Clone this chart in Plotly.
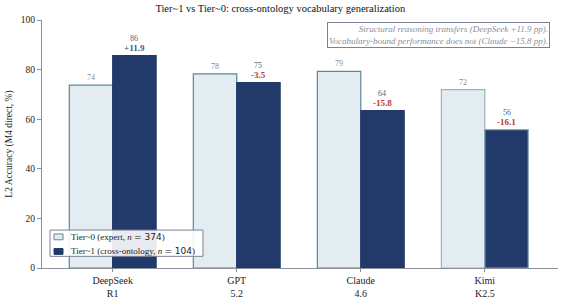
import plotly.graph_objects as go

models = ["DeepSeek<br>R1", "GPT<br>5.2", "Claude<br>4.6", "Kimi<br>K2.5"]
tier0 = [73.7, 78.3, 79.3, 71.9]
tier1 = [85.6, 74.8, 63.5, 55.8]
delta_labels = ["+11.9", "-3.5", "-15.8", "-16.1"]
tier0_name = 'Tier~0 (expert, <i>n</i> <span style="font-family:DejaVu Sans">= 374</span>)'
tier1_name = 'Tier~1 (cross-ontology, <i>n</i> <span style="font-family:DejaVu Sans">= 104</span>)'

FONT = "Liberation Serif"
t0_fill = "#e3edf1"
t0_edge = ["#5f8796", "#5f8796", "#5f8796", "#9ab4bf"]
t1_fill = "#213a69"
t1_edge = ["#213a69", "#213a69", "#213a69", "#8aa4b4"]

# plot area in pixels (for placing legend/box elements)
L, R, T, B = 42, 558, 20, 275
W, H = R - L, B - T
def px(v):
    return (v - L) / W
def py(v):
    return (B - v) / H

x = list(range(len(models)))
fig = go.Figure()
fig.add_trace(go.Bar(x=x, y=tier0, name=tier0_name, marker=dict(color=t0_fill, line=dict(color=t0_edge, width=1.2)),
                     width=0.35, offset=-0.35, showlegend=False))
fig.add_trace(go.Bar(x=x, y=tier1, name=tier1_name, marker=dict(color=t1_fill, line=dict(color=t1_edge, width=1.2)),
                     width=0.35, offset=0.0, showlegend=False))

ann = []
for i in x:
    ann.append(dict(x=i - 0.175, y=tier0[i], text=f"{tier0[i]:.0f}", showarrow=False, yanchor="bottom", yshift=1,
                    font=dict(family=FONT, size=8, color="#8a8a8a")))
    col = "#2f5f8f" if delta_labels[i].startswith("+") else "#c0392b"
    ann.append(dict(x=i + 0.175, y=tier1[i], text=f"<b>{delta_labels[i]}</b>", showarrow=False, yanchor="bottom", yshift=1,
                    font=dict(family=FONT, size=9, color=col)))
    ann.append(dict(x=i + 0.175, y=tier1[i], text=f"{tier1[i]:.0f}", showarrow=False, yanchor="bottom", yshift=11,
                    font=dict(family=FONT, size=8, color="#4a5f8a")))

ann.append(dict(xref="paper", yref="paper", x=px(550), y=py(22), xanchor="right", yanchor="top", align="right",
                text="<i>Structural reasoning transfers (DeepSeek +11.9 pp).</i><br><i>Vocabulary-bound performance does not (Claude \u221215.8 pp).</i>",
                showarrow=False, font=dict(family=FONT, size=9, color="#8a8f9a"),
                bordercolor="#7a8194", borderwidth=1, borderpad=1, bgcolor="white"))

# manual legend
shapes = [
    dict(type="rect", xref="paper", yref="paper", x0=px(50), x1=px(203), y0=py(263), y1=py(236),
         line=dict(color="#7a8194", width=1), fillcolor="rgba(255,255,255,0.9)", layer="above"),
    dict(type="rect", xref="paper", yref="paper", x0=px(54), x1=px(63), y0=py(246), y1=py(240),
         line=dict(color=t0_edge[0], width=1), fillcolor=t0_fill, layer="above"),
    dict(type="rect", xref="paper", yref="paper", x0=px(54), x1=px(63), y0=py(261), y1=py(255),
         line=dict(color=t1_fill, width=1), fillcolor=t1_fill, layer="above"),
]
for name, yc in [(tier0_name, 243), (tier1_name, 258)]:
    ann.append(dict(xref="paper", yref="paper", x=px(69), y=py(yc), xanchor="left", yanchor="middle", text=name,
                    showarrow=False, font=dict(family=FONT, size=9, color="#222")))

fig.update_layout(
    width=564, height=305,
    margin=dict(l=L, r=564 - R, t=T, b=305 - B),
    paper_bgcolor="white", plot_bgcolor="white",
    font=dict(family=FONT, size=10, color="#222"),
    title=dict(text="Tier~1 vs Tier~0: cross-ontology vocabulary generalization", x=0.497, xanchor="center", y=0.985, yanchor="top",
               font=dict(family=FONT, size=10.5, color="#111")),
    barmode="overlay",
    showlegend=False,
    annotations=ann,
    shapes=shapes,
)
fig.update_xaxes(range=[-0.57, 3.59], tickvals=x, ticktext=models, showline=True, linecolor="#8a8f9a", linewidth=1,
                 ticks="outside", ticklen=3, tickcolor="#8a8f9a", showgrid=False, zeroline=False,
                 tickfont=dict(family=FONT, size=10, color="#222"))
fig.update_yaxes(range=[0, 100], tickvals=[0, 20, 40, 60, 80, 100], showline=True, linecolor="#8a8f9a", linewidth=1,
                 ticks="outside", ticklen=4, tickcolor="#8a8f9a", showgrid=False, zeroline=False,
                 title=dict(text="L2 Accuracy (M4 direct, %)", font=dict(family=FONT, size=9.5, color="#222"), standoff=6),
                 tickfont=dict(family=FONT, size=9.5, color="#222"))

fig.write_html("out.html")
